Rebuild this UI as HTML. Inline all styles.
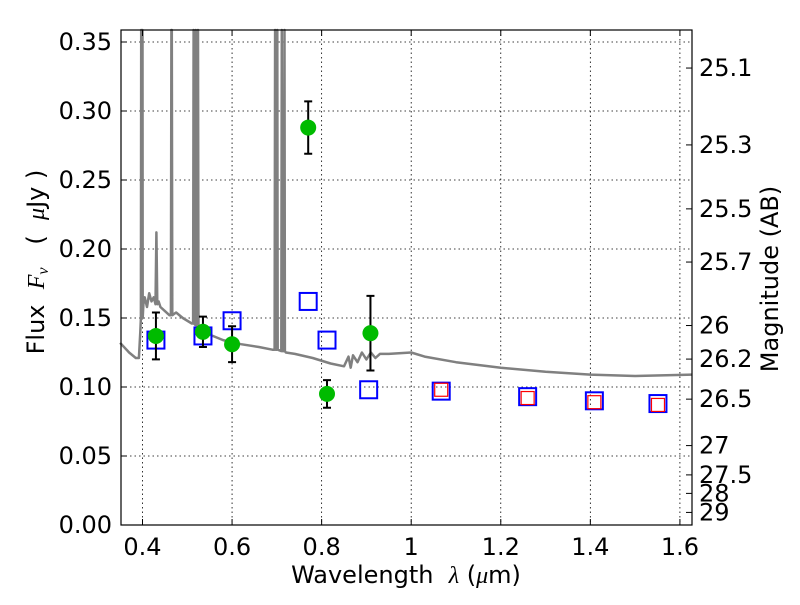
<!DOCTYPE html>
<html><head><meta charset="utf-8"><style>
body{margin:0;background:#fff;}
svg text{font-family:"DejaVu Sans","Liberation Sans",sans-serif;}
</style></head><body>
<svg id="chart" width="800" height="600" xmlns="http://www.w3.org/2000/svg">
<rect width="800" height="600" fill="#fff"/>
<g id="grid"></g>
<g id="spec"></g>
<g id="marks"></g>
<rect x="121" y="30" width="571" height="495" fill="none" stroke="#000" stroke-width="1.2"/>
<g id="axes"></g>
<text x="406" y="583" font-size="24" text-anchor="middle" xml:space="preserve">Wavelength  <tspan font-style="italic" font-family="Liberation Serif">λ</tspan> (<tspan font-style="italic" font-family="Liberation Serif">μ</tspan>m)</text>
<text transform="translate(44,262) rotate(-90)" font-size="24" text-anchor="middle" xml:space="preserve">Flux  <tspan font-style="italic" font-family="Liberation Serif">F<tspan font-size="16" dy="4">ν</tspan></tspan><tspan dy="-4">   (  </tspan><tspan font-style="italic" font-family="Liberation Serif">μ</tspan>Jy )</text>
<text transform="translate(778,279) rotate(-90)" font-size="24" text-anchor="middle">Magnitude (AB)</text>
</svg>
<script>
const xTicks=[0.4,0.6,0.8,1.0,1.2,1.4,1.6];
const xTickLabels=["0.4","0.6","0.8","1","1.2","1.4","1.6"];
const yTicks=[0,0.05,0.10,0.15,0.20,0.25,0.30,0.35];
const yTickLabels=["0.00","0.05","0.10","0.15","0.20","0.25","0.30","0.35"];
const magTicks=[25.1,25.3,25.5,25.7,26,26.2,26.5,27,27.5,28,29];
const magLabels=["25.1","25.3","25.5","25.7","26","26.2","26.5","27","27.5","28","29"];
const specWave=[0.35,0.37,0.385,0.392,0.395,0.3965,0.397,0.3975,0.399,0.400,0.4005,0.402,0.405,0.41,0.415,0.42,0.425,0.429,0.431,0.433,0.436,0.44,0.45,0.46,0.4635,0.4645,0.4655,0.4665,0.475,0.49,0.51,0.513,0.514,0.515,0.518,0.519,0.520,0.523,0.524,0.525,0.53,0.55,0.58,0.62,0.66,0.69,0.695,0.696,0.697,0.700,0.701,0.702,0.710,0.711,0.712,0.716,0.717,0.718,0.72,0.74,0.78,0.82,0.85,0.86,0.865,0.87,0.88,0.89,0.90,0.91,0.92,0.93,0.95,1.0,1.03,1.1,1.2,1.3,1.4,1.5,1.627];
const specFlux=[0.132,0.125,0.121,0.121,0.14,0.15,0.36,0.15,0.152,0.36,0.15,0.16,0.165,0.158,0.168,0.162,0.165,0.16,0.212,0.16,0.162,0.158,0.155,0.152,0.152,0.36,0.36,0.152,0.154,0.150,0.146,0.146,0.36,0.146,0.145,0.36,0.145,0.144,0.36,0.143,0.140,0.138,0.134,0.131,0.129,0.127,0.127,0.36,0.127,0.127,0.36,0.127,0.126,0.36,0.126,0.126,0.36,0.126,0.125,0.124,0.121,0.117,0.115,0.122,0.114,0.123,0.118,0.125,0.12,0.125,0.121,0.124,0.124,0.125,0.122,0.118,0.114,0.111,0.109,0.108,0.109];
const obsWave=[0.43,0.535,0.60,0.77,0.812,0.909];
const obsFlux=[0.137,0.140,0.131,0.288,0.095,0.139];
const obsErr=[0.017,0.011,0.013,0.019,0.010,0.027];
const modelWave=[0.43,0.535,0.60,0.77,0.812,0.905,1.067,1.26,1.409,1.551];
const modelFlux=[0.134,0.137,0.148,0.162,0.134,0.098,0.097,0.093,0.090,0.088];
const model2Wave=[1.067,1.26,1.409,1.551];
const model2Flux=[0.098,0.092,0.089,0.087];

const X0=121,X1=692,Y0=525,Y1=30,xmin=0.352,xmax=1.627,ymin=0,ymax=0.3587;
const sx=v=>X0+(v-xmin)/(xmax-xmin)*(X1-X0);
const sy=v=>Y0-(v-ymin)/(ymax-ymin)*(Y0-Y1);
const NS="http://www.w3.org/2000/svg";
function mk(p,t,a){const e=document.createElementNS(NS,t);for(const k in a)e.setAttribute(k,a[k]);p.appendChild(e);return e;}
const grid=document.getElementById('grid'),axes=document.getElementById('axes');
xTicks.forEach((v,i)=>{const x=sx(v);
 const g=mk(grid,'line',{x1:x,x2:x,y1:Y1,y2:Y0,stroke:'#000','stroke-width':0.8,'stroke-dasharray':'1.5,3'});
 
 
 mk(axes,'line',{x1:x,x2:x,y1:Y0,y2:Y0-6,stroke:'#000'});
 mk(axes,'line',{x1:x,x2:x,y1:Y1,y2:Y1+6,stroke:'#000'});
 const t=mk(axes,'text',{x:x,y:555,'font-size':24,'text-anchor':'middle'});t.textContent=xTickLabels[i];
 
 
});
yTicks.forEach((v,i)=>{const y=sy(v);
 const g=mk(grid,'line',{x1:X0,x2:X1,y1:y,y2:y,stroke:'#000','stroke-width':0.8,'stroke-dasharray':'1.5,3'});
 
 
 mk(axes,'line',{x1:X0,x2:X0+6,y1:y,y2:y,stroke:'#000'});
 const t=mk(axes,'text',{x:112,y:y+8,'font-size':24,'text-anchor':'end'});t.textContent=yTickLabels[i];
 
 
});
magTicks.forEach((m,i)=>{const y=sy(Math.pow(10,(23.9-m)/2.5));
 mk(axes,'line',{x1:X1-6,x2:X1,y1:y,y2:y,stroke:'#000'});
 const t=mk(axes,'text',{x:699,y:y+8,'font-size':24});t.textContent=magLabels[i];
 
 
});
const spec=document.getElementById('spec');
const d=specWave.map((w,i)=>(i?'L':'M')+sx(w).toFixed(1)+','+Math.max(Y1,sy(specFlux[i])).toFixed(1)).join('');
const sp=mk(spec,'path',{d:d,fill:'none',stroke:'#808080','stroke-width':2.5,'stroke-linejoin':'round'});


const marks=document.getElementById('marks');
modelWave.forEach((w,i)=>{const r=mk(marks,'rect',{x:sx(w)-8.5,y:sy(modelFlux[i])-8.5,width:17,height:17,fill:'none',stroke:'#0000ff','stroke-width':2});
 
 });
model2Wave.forEach((w,i)=>{const r=mk(marks,'rect',{x:sx(w)-6.5,y:sy(model2Flux[i])-6.5,width:13,height:13,fill:'none',stroke:'#ff0000','stroke-width':1.2});
 
 });
obsWave.forEach((w,i)=>{const x=sx(w),yt=sy(obsFlux[i]+obsErr[i]),yb=sy(obsFlux[i]-obsErr[i]);
 const e=mk(marks,'path',{d:`M${x},${yt}L${x},${yb}M${x-4},${yt}L${x+4},${yt}M${x-4},${yb}L${x+4},${yb}`,stroke:'#000','stroke-width':2,fill:'none'});
 
 
 const c=mk(marks,'circle',{cx:x,cy:sy(obsFlux[i]),r:8,fill:'#00bb00'});
 
 
});
</script>
</body></html>
